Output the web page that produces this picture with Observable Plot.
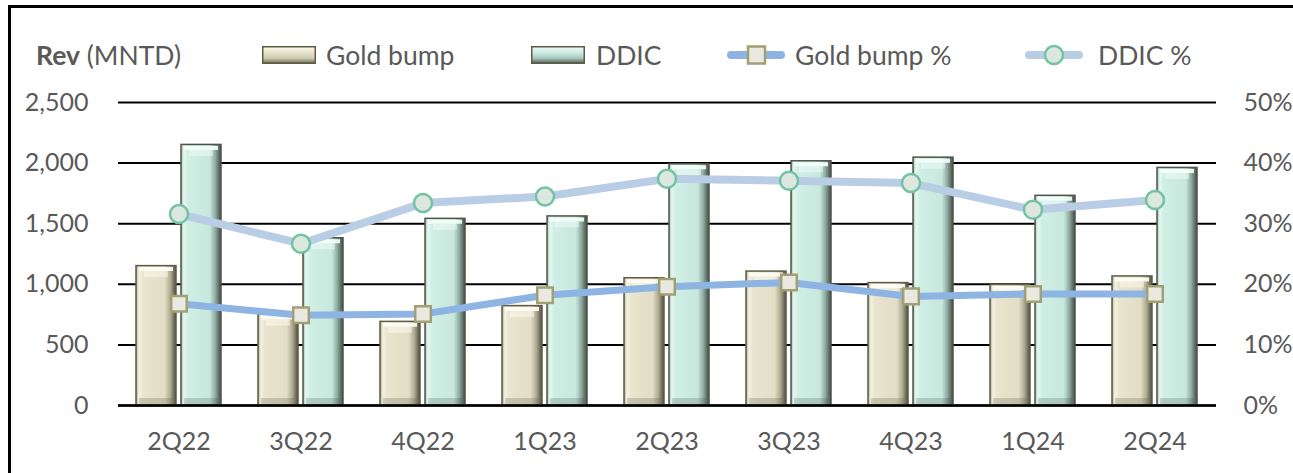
<!DOCTYPE html>
<html><head><meta charset="utf-8">
<script src="https://cdn.jsdelivr.net/npm/d3@7"></script>
<script src="https://cdn.jsdelivr.net/npm/@observablehq/plot@0.6"></script>
<style>
body{margin:0;background:#fff;font-family:Lato,"Open Sans",sans-serif;color:#595959;}
#wrap{position:relative;width:1293px;height:473px;overflow:hidden;}
#frame{position:absolute;left:8px;top:5px;width:1300px;height:480px;border-left:3px solid #000;border-top:3px solid #000;pointer-events:none;}
#legend{position:relative;height:80px;}
.li{position:absolute;top:39px;height:32px;display:flex;align-items:center;font-size:26.5px;white-space:nowrap;}
.li svg{display:block;}
</style>
</head><body>
<svg width="0" height="0" style="position:absolute">
  <defs>
    <linearGradient id="gGold" x1="0" x2="1" y1="0" y2="0">
      <stop offset="0" stop-color="#a9a68c"/>
      <stop offset="0.07" stop-color="#f4f1e2"/>
      <stop offset="0.18" stop-color="#e9e4cf"/>
      <stop offset="0.72" stop-color="#e2ddc5"/>
      <stop offset="0.86" stop-color="#aeab91"/>
      <stop offset="1" stop-color="#4d4c3d"/>
    </linearGradient>
    <linearGradient id="gDdic" x1="0" x2="1" y1="0" y2="0">
      <stop offset="0" stop-color="#9fbcb0"/>
      <stop offset="0.07" stop-color="#e4f8f1"/>
      <stop offset="0.18" stop-color="#cfeee4"/>
      <stop offset="0.72" stop-color="#c8e8de"/>
      <stop offset="0.86" stop-color="#8ea99e"/>
      <stop offset="1" stop-color="#3f4d46"/>
    </linearGradient>
    <linearGradient id="lGold" x1="0" x2="0" y1="0" y2="1">
      <stop offset="0" stop-color="#fbf9ea"/>
      <stop offset="0.35" stop-color="#e8e3cc"/>
      <stop offset="0.7" stop-color="#cfcab0"/>
      <stop offset="1" stop-color="#6e6b55"/>
    </linearGradient>
    <linearGradient id="lDdic" x1="0" x2="0" y1="0" y2="1">
      <stop offset="0" stop-color="#ecfbf6"/>
      <stop offset="0.35" stop-color="#cdede3"/>
      <stop offset="0.7" stop-color="#a9c7bc"/>
      <stop offset="1" stop-color="#4f605a"/>
    </linearGradient>
  </defs>
</svg>
<div id="wrap">
  <div id="legend">
    <div class="li" style="left:36px"><span><b>Rev</b> (MNTD)</span></div>
    <div class="li" style="left:262px"><svg width="54" height="18"><rect x="0.75" y="0.75" width="52.5" height="16.5" fill="url(#lGold)" stroke="#5e5c46" stroke-width="1.5"/></svg><span style="margin-left:10px">Gold bump</span></div>
    <div class="li" style="left:531px"><svg width="54" height="18"><rect x="0.75" y="0.75" width="52.5" height="16.5" fill="url(#lDdic)" stroke="#5e5c46" stroke-width="1.5"/></svg><span style="margin-left:11px">DDIC</span></div>
    <div class="li" style="left:727px"><svg width="58" height="20"><line x1="4" x2="54" y1="10" y2="10" stroke="#8EB4E3" stroke-width="8" stroke-linecap="round"/><rect x="21" y="1.5" width="17" height="17" fill="#EAE9E1" stroke="#A39F74" stroke-width="2.5"/></svg><span style="margin-left:10px">Gold bump %</span></div>
    <div class="li" style="left:1025px"><svg width="58" height="22"><line x1="4" x2="54" y1="11" y2="11" stroke="#B9CDE5" stroke-width="8" stroke-linecap="round"/><circle cx="29" cy="11" r="9" fill="#DCE7E0" stroke="#73C2A2" stroke-width="2.5"/></svg><span style="margin-left:15px">DDIC %</span></div>
  </div>
  <div id="chart"></div>
  <div id="frame"></div>
</div>
<script>
const categories = ["2Q22","3Q22","4Q22","1Q23","2Q23","3Q23","4Q23","1Q24","2Q24"];
const goldRev = [1150, 750, 690, 820, 1050, 1105, 1010, 995, 1065];
const ddicRev = [2150, 1380, 1540, 1560, 1990, 2015, 2045, 1730, 1960];
const goldPct = [16.8, 14.9, 15.1, 18.2, 19.6, 20.3, 18.0, 18.4, 18.4];
const ddicPct = [31.6, 26.7, 33.4, 34.5, 37.4, 37.1, 36.7, 32.3, 33.9];
const revTicks = [0, 500, 1000, 1500, 2000, 2500];

const data = categories.map((c, i) => ({cat: c, gold: goldRev[i], ddic: ddicRev[i], goldPct: goldPct[i], ddicPct: ddicPct[i]}));
// secondary axis: 50% ↔ 2,500
const pctToRev = 2500 / 50;

const chart = Plot.plot({
  width: 1293,
  height: 393,
  marginTop: 22,
  marginBottom: 68,
  marginLeft: 118,
  marginRight: 77,
  style: {fontFamily: "Lato, 'Open Sans', sans-serif", fontSize: "25px", color: "#595959", background: "transparent"},
  x: {domain: categories, paddingInner: 0.3, paddingOuter: 0.15, label: null},
  y: {domain: [0, 2500], label: null},
  marks: [
    Plot.gridY(revTicks, {stroke: "#000", strokeOpacity: 1, strokeWidth: 2}),
    Plot.axisY(revTicks, {anchor: "left", tickSize: 0, tickPadding: 30, tickFormat: d3.format(","), label: null}),
    Plot.axisY(revTicks, {anchor: "right", tickSize: 0, tickPadding: 27, tickFormat: d => (d / pctToRev) + "%", label: null}),
    Plot.axisX({tickSize: 0, tickPadding: 27, label: null}),
    Plot.barY(data, {x: "cat", y: "gold", insetRight: 45, fill: "url(#gGold)", stroke: "#5e5c46", strokeWidth: 1.5}),
    Plot.barY(data, {x: "cat", y: "ddic", insetLeft: 45, fill: "url(#gDdic)", stroke: "#4f5448", strokeWidth: 1.5}),
    // top bevel highlight
    Plot.tickY(data, {x: "cat", y: "gold", insetRight: 48, insetLeft: 3, dy: 3, stroke: "#fffef6", strokeOpacity: 0.9, strokeWidth: 4}),
    Plot.tickY(data, {x: "cat", y: "gold", insetRight: 53, insetLeft: 8, dy: 8, stroke: "#fffef6", strokeOpacity: 0.45, strokeWidth: 6}),
    Plot.tickY(data, {x: "cat", y: "ddic", insetLeft: 48, insetRight: 3, dy: 3, stroke: "#f6fffc", strokeOpacity: 0.9, strokeWidth: 4}),
    Plot.tickY(data, {x: "cat", y: "ddic", insetLeft: 53, insetRight: 8, dy: 8, stroke: "#f6fffc", strokeOpacity: 0.45, strokeWidth: 6}),
    // bottom bevel shade
    Plot.tickY(data, {x: "cat", y: d => 0, insetRight: 48, insetLeft: 3, dy: -4, stroke: "#5e5c46", strokeOpacity: 0.25, strokeWidth: 7}),
    Plot.tickY(data, {x: "cat", y: d => 0, insetLeft: 48, insetRight: 3, dy: -4, stroke: "#3f4d46", strokeOpacity: 0.22, strokeWidth: 7}),
    Plot.ruleY([0], {stroke: "#000", strokeWidth: 2.5}),
    Plot.line(data, {x: "cat", y: d => d.ddicPct * pctToRev, stroke: "#B9CDE5", strokeWidth: 8, strokeLinejoin: "round"}),
    Plot.line(data, {x: "cat", y: d => d.goldPct * pctToRev, stroke: "#8EB4E3", strokeWidth: 7, strokeLinejoin: "round"}),
    Plot.dot(data, {x: "cat", y: d => d.ddicPct * pctToRev, r: 9, fill: "#DCE7E0", stroke: "#73C2A2", strokeWidth: 2.5}),
    Plot.dot(data, {x: "cat", y: d => d.goldPct * pctToRev, symbol: "square", r: 8.8, fill: "#EAE9E1", stroke: "#A39F74", strokeWidth: 2.5})
  ]
});
document.getElementById("chart").appendChild(chart);
</script>
</body></html>
